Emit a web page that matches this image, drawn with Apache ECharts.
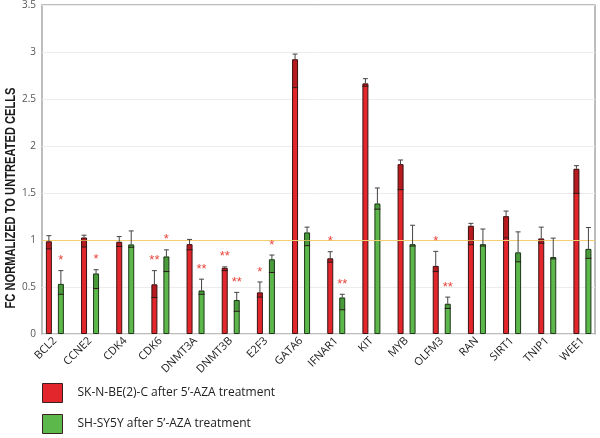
<!DOCTYPE html>
<html><head><meta charset="utf-8">
<script src="https://cdn.jsdelivr.net/npm/echarts@6/dist/echarts.min.js"></script>
<style>html,body{margin:0;padding:0;background:#fff}#c{width:600px;height:438px}</style>
</head><body><div id="c"></div>
<script>
const genes = ['BCL2','CCNE2','CDK4','CDK6','DNMT3A','DNMT3B','E2F3','GATA6','IFNAR1','KIT','MYB','OLFM3','RAN','SIRT1','TNIP1','WEE1'];
const skValues = [0.98,1.02,0.975,0.525,0.95,0.70,0.44,2.905,0.80,2.65,1.796,0.72,1.144,1.246,1.01,1.747];
const skErrUp  = [0.06,0.025,0.055,0.145,0.05,0.01,0.11,0.055,0.07,0.05,0.044,0.154,0.026,0.054,0.12,0.033];
const skErrLow = [0.08,0.1,0.05,0.14,0.06,0.03,0.05,0.3,0.04,0.03,0.27,0.06,0.2,0.23,0.05,0.26];
const syValues = [0.53,0.64,0.947,0.82,0.46,0.36,0.79,1.074,0.386,1.38,0.95,0.32,0.95,0.863,0.814,0.90];
const syErrUp  = [0.14,0.04,0.143,0.07,0.12,0.08,0.045,0.056,0.034,0.164,0.2,0.07,0.16,0.217,0.2,0.226];
const syErrLow = [0.11,0.16,0.03,0.16,0.04,0.12,0.14,0.14,0.13,0.06,0.02,0.05,0.02,0.1,0.02,0.1];
const skStars = ['','','','**','','**','*','','*','','','*','','','',''];
const syStars = ['*','*','','*','**','**','*','','**','','','**','','','',''];
const yTicks = [0,0.5,1,1.5,2,2.5,3,3.5];
const reference = 1;
const skName = 'SK-N-BE(2)-C after 5\u2019-AZA treatment';
const syName = 'SH-SY5Y after 5\u2019-AZA treatment';
const yTitle = 'FC NORMALIZED TO UNTREATED CELLS';

const RED = '#e3262b', GREEN = '#5cb84b';
const BW = 6, OFF = 6;

// condensed look for the y title: measure and squeeze horizontally
const TITLE_FONT = 'bold 15px "Liberation Sans"';
const mctx = document.createElement('canvas').getContext('2d');
mctx.font = TITLE_FONT;
const titleScale = 221 / mctx.measureText(yTitle).width;

function errSeries(vals, up, low, stars, off, shade){
  return {
    type:'custom', xAxisIndex:0, yAxisIndex:0, z:5, silent:true,
    data: vals.map((v,i)=>[i, v, up[i], low[i]]),
    renderItem: function(params, api){
      const i = api.value(0), v = api.value(1), u = api.value(2), l = api.value(3);
      const p = api.coord([i, v]);
      const pt = api.coord([i, v+u]);
      const pl = api.coord([i, v-l]);
      const x = p[0] + off;
      const children = [
        {type:'rect', shape:{x:x-BW/2+0.5, y:p[1], width:BW-1, height:pl[1]-p[1]}, style:{fill:shade}},
        {type:'line', shape:{x1:x-BW/2, y1:pl[1], x2:x+BW/2, y2:pl[1]}, style:{stroke:'#2a1a1a', lineWidth:1}},
        {type:'line', shape:{x1:x, y1:p[1], x2:x, y2:pt[1]}, style:{stroke:'#444', lineWidth:1}},
        {type:'line', shape:{x1:x-2.5, y1:pt[1], x2:x+2.5, y2:pt[1]}, style:{stroke:'#444', lineWidth:1}}
      ];
      const s = stars[i];
      if (s) children.push({type:'text', style:{text:s, x:x, y:pt[1]-10, align:'center', verticalAlign:'middle', fill:'#e8453c', font:'13px "Liberation Sans"'}});
      return {type:'group', children};
    }
  };
}

const chart = echarts.init(document.getElementById('c'), null, {renderer:'canvas'});
chart.setOption({
  animation:false,
  textStyle:{fontFamily:'"Open Sans", sans-serif'},
  grid:[
    {left:37.3, top:3, width:565, height:331},
    {left:42, top:3, width:553, height:331, show:true, borderColor:'#a8a8a8', borderWidth:1.5, z:0}
  ],
  xAxis:[
    {type:'category', gridIndex:0, data:genes, axisLine:{show:false}, axisTick:{show:false},
     axisLabel:{rotate:45, fontSize:11, color:'#222', margin:5, interval:0}},
    {type:'value', gridIndex:1, min:0, max:1, show:false}
  ],
  yAxis:[
    {type:'value', gridIndex:0, min:0, max:3.5, interval:0.5, show:false},
    {type:'value', gridIndex:1, min:yTicks[0], max:yTicks[yTicks.length-1], interval:0.5,
     axisLine:{show:false}, axisTick:{show:false},
     splitLine:{lineStyle:{color:'#ececec'}},
     axisLabel:{fontSize:10, color:'#555', margin:6, formatter:v=>String(v)}}
  ],
  legend:{
    orient:'vertical', left:42, top:383, itemWidth:20, itemHeight:19, itemGap:11, padding:0,
    icon:'rect', data:[skName, syName],
    itemStyle:{borderColor:'#3a2020', borderWidth:1},
    textStyle:{fontSize:12, color:'#222', padding:[0,0,0,10]}
  },
  graphic:[
    {type:'text', x:11, y:198, rotation:Math.PI/2, scaleX:titleScale, scaleY:1,
     style:{text:yTitle, align:'center', verticalAlign:'middle', font:TITLE_FONT, fill:'#1a1a1a'}}
  ],
  series:[
    {type:'line', xAxisIndex:1, yAxisIndex:1, data:[], silent:true,
     markLine:{silent:true, symbol:'none', label:{show:false},
       lineStyle:{color:'#f3cf6f', type:'solid', width:1.2}, data:[{yAxis:reference}]}},
    {name:skName, type:'bar', xAxisIndex:0, yAxisIndex:0, data:skValues, barWidth:BW, barGap:'100%',
     itemStyle:{color:RED, borderColor:'#3a1414', borderWidth:1}},
    {name:syName, type:'bar', xAxisIndex:0, yAxisIndex:0, data:syValues, barWidth:BW, barGap:'100%',
     itemStyle:{color:GREEN, borderColor:'#1e3a18', borderWidth:1}},
    errSeries(skValues, skErrUp, skErrLow, skStars, -OFF, 'rgba(70,0,0,0.28)'),
    errSeries(syValues, syErrUp, syErrLow, syStars, OFF, 'rgba(0,40,0,0.2)')
  ]
});
</script></body></html>
